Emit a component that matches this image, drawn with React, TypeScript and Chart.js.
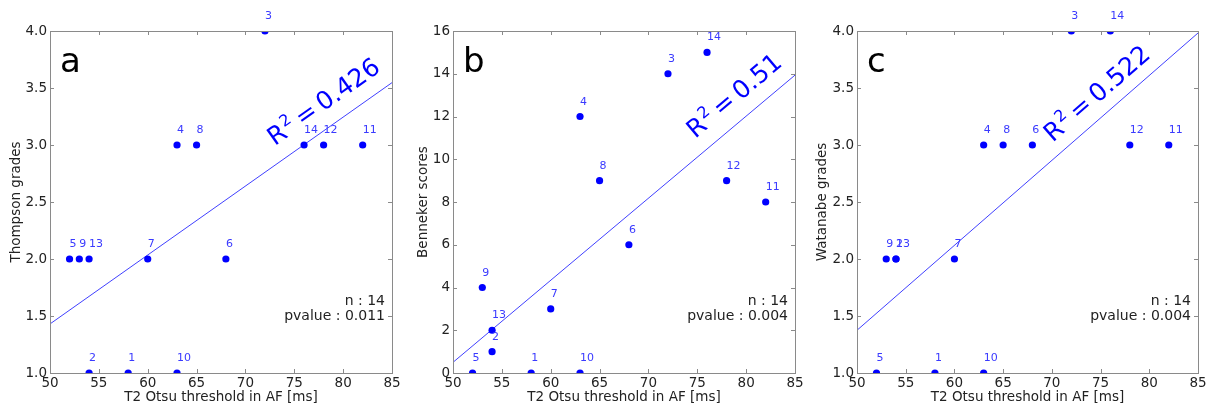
import React, { useEffect, useRef } from 'react';
import { Chart, registerables } from 'chart.js';

Chart.register(...registerables);

// ---------------- data ----------------
const patientIds = [1, 2, 3, 4, 5, 6, 7, 8, 9, 10, 11, 12, 13, 14];
const t2Threshold = [58, 54, 72, 63, 52, 68, 60, 65, 53, 63, 82, 78, 54, 76];
const thompsonGrades = [1, 1, 4, 3, 2, 2, 2, 3, 2, 1, 3, 3, 2, 3];
const bennekerScores = [0, 1, 14, 12, 0, 6, 3, 9, 4, 0, 8, 9, 2, 15];
const watanabeGrades = [1, 2, 4, 3, 1, 3, 2, 3, 2, 1, 3, 3, 2, 4];

const xTicks = [50, 55, 60, 65, 70, 75, 80, 85];
const gradeTicks = [1.0, 1.5, 2.0, 2.5, 3.0, 3.5, 4.0];
const bennekerTicks = [0, 2, 4, 6, 8, 10, 12, 14, 16];

const panelLetters = ['a', 'b', 'c'];
const yTitles = ['Thompson grades', 'Benneker scores', 'Watanabe grades'];
const xTitle = 'T2 Otsu threshold in AF [ms]';
const r2Values = ['0.426', '0.51', '0.522'];
const nTexts = ['n : 14', 'n : 14', 'n : 14'];
const pValueTexts = ['pvalue : 0.011', 'pvalue : 0.004', 'pvalue : 0.004'];
// data-space anchor of the rotated R² annotation (baseline start)
const r2AnchorX = [73.0, 74.8, 70.1];
const r2AnchorY = [2.99, 10.95, 3.02];

// ---------------- layout (not data) ----------------
const H = 407;
const panels = [
  { left: 0, width: 407, yW: 50, rightPad: 15, ys: thompsonGrades, yTicks: gradeTicks, digits: 1 },
  { left: 407, width: 399, yW: 46, rightPad: 11, ys: bennekerScores, yTicks: bennekerTicks, digits: 0 },
  { left: 806, width: 407, yW: 51, rightPad: 15, ys: watanabeGrades, yTicks: gradeTicks, digits: 1 },
];

const FONT = "'DejaVu Sans', 'Liberation Sans', sans-serif";
const POINT_BLUE = '#0000ff';
const LINE_BLUE = '#4040ff';
const LABEL_BLUE = '#3a3aff';
const FRAME = '#8a8a8a';
const TEXT = '#222222';

function regression(xs: number[], ys: number[]) {
  const n = xs.length;
  const mx = xs.reduce((a, b) => a + b, 0) / n;
  const my = ys.reduce((a, b) => a + b, 0) / n;
  let sxy = 0;
  let sxx = 0;
  for (let i = 0; i < n; i++) {
    sxy += (xs[i] - mx) * (ys[i] - my);
    sxx += (xs[i] - mx) * (xs[i] - mx);
  }
  const slope = sxy / sxx;
  return { slope, intercept: my - slope * mx };
}

function Panel({ idx }: { idx: number }) {
  const ref = useRef<HTMLCanvasElement | null>(null);
  const p = panels[idx];

  useEffect(() => {
    if (!ref.current) return;
    const { slope, intercept } = regression(t2Threshold, p.ys);
    const xMin = xTicks[0];
    const xMax = xTicks[xTicks.length - 1];
    const yMin = p.yTicks[0];
    const yMax = p.yTicks[p.yTicks.length - 1];

    const decorations = {
      id: 'decorations' + idx,
      afterDatasetsDraw(chart: any) {
        const ctx = chart.ctx as CanvasRenderingContext2D;
        const area = chart.chartArea;
        const xs = chart.scales.x;
        const ys = chart.scales.y;
        ctx.save();

        // frame
        ctx.strokeStyle = FRAME;
        ctx.lineWidth = 1;
        ctx.strokeRect(Math.round(area.left) + 0.5, Math.round(area.top) + 0.5,
          Math.round(area.right - area.left), Math.round(area.bottom - area.top));

        // inward ticks on all four sides
        ctx.beginPath();
        const tl = 4;
        xTicks.forEach((v) => {
          const px = Math.round(xs.getPixelForValue(v)) + 0.5;
          ctx.moveTo(px, area.bottom);
          ctx.lineTo(px, area.bottom - tl);
          ctx.moveTo(px, area.top);
          ctx.lineTo(px, area.top + tl);
        });
        p.yTicks.forEach((v) => {
          const py = Math.round(ys.getPixelForValue(v)) + 0.5;
          ctx.moveTo(area.left, py);
          ctx.lineTo(area.left + tl, py);
          ctx.moveTo(area.right, py);
          ctx.lineTo(area.right - tl, py);
        });
        ctx.stroke();

        // point labels
        ctx.fillStyle = LABEL_BLUE;
        ctx.font = `11px ${FONT}`;
        ctx.textAlign = 'left';
        ctx.textBaseline = 'alphabetic';
        patientIds.forEach((id, i) => {
          const px = xs.getPixelForValue(t2Threshold[i]);
          const py = ys.getPixelForValue(p.ys[i]);
          ctx.fillText(String(id), px, py - 12);
        });

        // R² annotation, rotated along the regression line
        const x1 = xs.getPixelForValue(xMin);
        const y1 = ys.getPixelForValue(intercept + slope * xMin);
        const x2 = xs.getPixelForValue(xMax);
        const y2 = ys.getPixelForValue(intercept + slope * xMax);
        const angle = Math.atan2(y2 - y1, x2 - x1);
        ctx.save();
        ctx.translate(xs.getPixelForValue(r2AnchorX[idx]), ys.getPixelForValue(r2AnchorY[idx]));
        ctx.rotate(angle);
        ctx.fillStyle = POINT_BLUE;
        ctx.font = `25px ${FONT}`;
        ctx.fillText('R', 0, 0);
        let w = ctx.measureText('R').width + 1;
        ctx.font = `16px ${FONT}`;
        ctx.fillText('2', w, -10);
        w += ctx.measureText('2').width;
        ctx.font = `25px ${FONT}`;
        ctx.fillText('\u2009=\u2009' + r2Values[idx], w, 0);
        ctx.restore();

        // n / pvalue
        ctx.fillStyle = TEXT;
        ctx.font = `14px ${FONT}`;
        ctx.textAlign = 'right';
        ctx.fillText(nTexts[idx], area.right - 7, area.bottom - 68);
        ctx.fillText(pValueTexts[idx], area.right - 7, area.bottom - 53);

        // panel letter
        ctx.fillStyle = '#000000';
        ctx.font = `34px ${FONT}`;
        ctx.textAlign = 'left';
        ctx.fillText(panelLetters[idx], area.left + 10, area.top + 41);

        ctx.restore();
      },
    };

    const chart = new Chart(ref.current, {
      type: 'scatter',
      data: {
        datasets: [
          {
            type: 'line',
            data: [
              { x: xMin, y: intercept + slope * xMin },
              { x: xMax, y: intercept + slope * xMax },
            ],
            borderColor: LINE_BLUE,
            borderWidth: 1,
            pointRadius: 0,
            fill: false,
            clip: 0,
            order: 2,
          } as any,
          {
            data: t2Threshold.map((x, i) => ({ x, y: p.ys[i] })),
            backgroundColor: POINT_BLUE,
            borderWidth: 0,
            pointRadius: 3.6,
            pointHoverRadius: 3.6,
            clip: 0,
            order: 1,
          } as any,
        ],
      },
      options: {
        responsive: false,
        animation: false,
        events: [],
        layout: { padding: { left: 0, top: 31, right: p.rightPad, bottom: 0 } },
        plugins: { legend: { display: false }, tooltip: { enabled: false } },
        scales: {
          x: {
            type: 'linear',
            min: xMin,
            max: xMax,
            afterBuildTicks: (s: any) => {
              s.ticks = xTicks.map((v) => ({ value: v }));
            },
            afterFit: (s: any) => {
              s.height = 34;
            },
            grid: { display: false, drawTicks: false },
            border: { display: false },
            ticks: {
              autoSkip: false,
              maxRotation: 0,
              padding: 2,
              color: TEXT,
              font: { family: FONT, size: 13.5 },
              callback: (v: any) => String(v),
            },
            title: {
              display: true,
              text: xTitle,
              color: TEXT,
              font: { family: FONT, size: 13.5 },
              padding: { top: 0, bottom: 1 },
            },
          },
          y: {
            type: 'linear',
            min: yMin,
            max: yMax,
            afterBuildTicks: (s: any) => {
              s.ticks = p.yTicks.map((v) => ({ value: v }));
            },
            afterFit: (s: any) => {
              s.width = p.yW;
            },
            grid: { display: false, drawTicks: false },
            border: { display: false },
            ticks: {
              autoSkip: false,
              padding: 3,
              color: TEXT,
              font: { family: FONT, size: 13.5 },
              callback: (v: any) => Number(v).toFixed(p.digits),
            },
            title: {
              display: true,
              text: yTitles[idx],
              color: TEXT,
              font: { family: FONT, size: 13.5 },
              padding: { top: 8, bottom: 0 },
            },
          },
        },
      },
      plugins: [decorations],
    } as any);

    return () => chart.destroy();
  }, [idx]);

  return (
    <canvas
      ref={ref}
      width={p.width}
      height={H}
      style={{ position: 'absolute', left: p.left, top: 0, width: p.width, height: H }}
    />
  );
}

export default function App() {
  return (
    <div style={{ position: 'absolute', left: 0, top: 0, width: 1213, height: H, background: '#ffffff' }}>
      {panels.map((_, i) => (
        <Panel key={i} idx={i} />
      ))}
    </div>
  );
}
